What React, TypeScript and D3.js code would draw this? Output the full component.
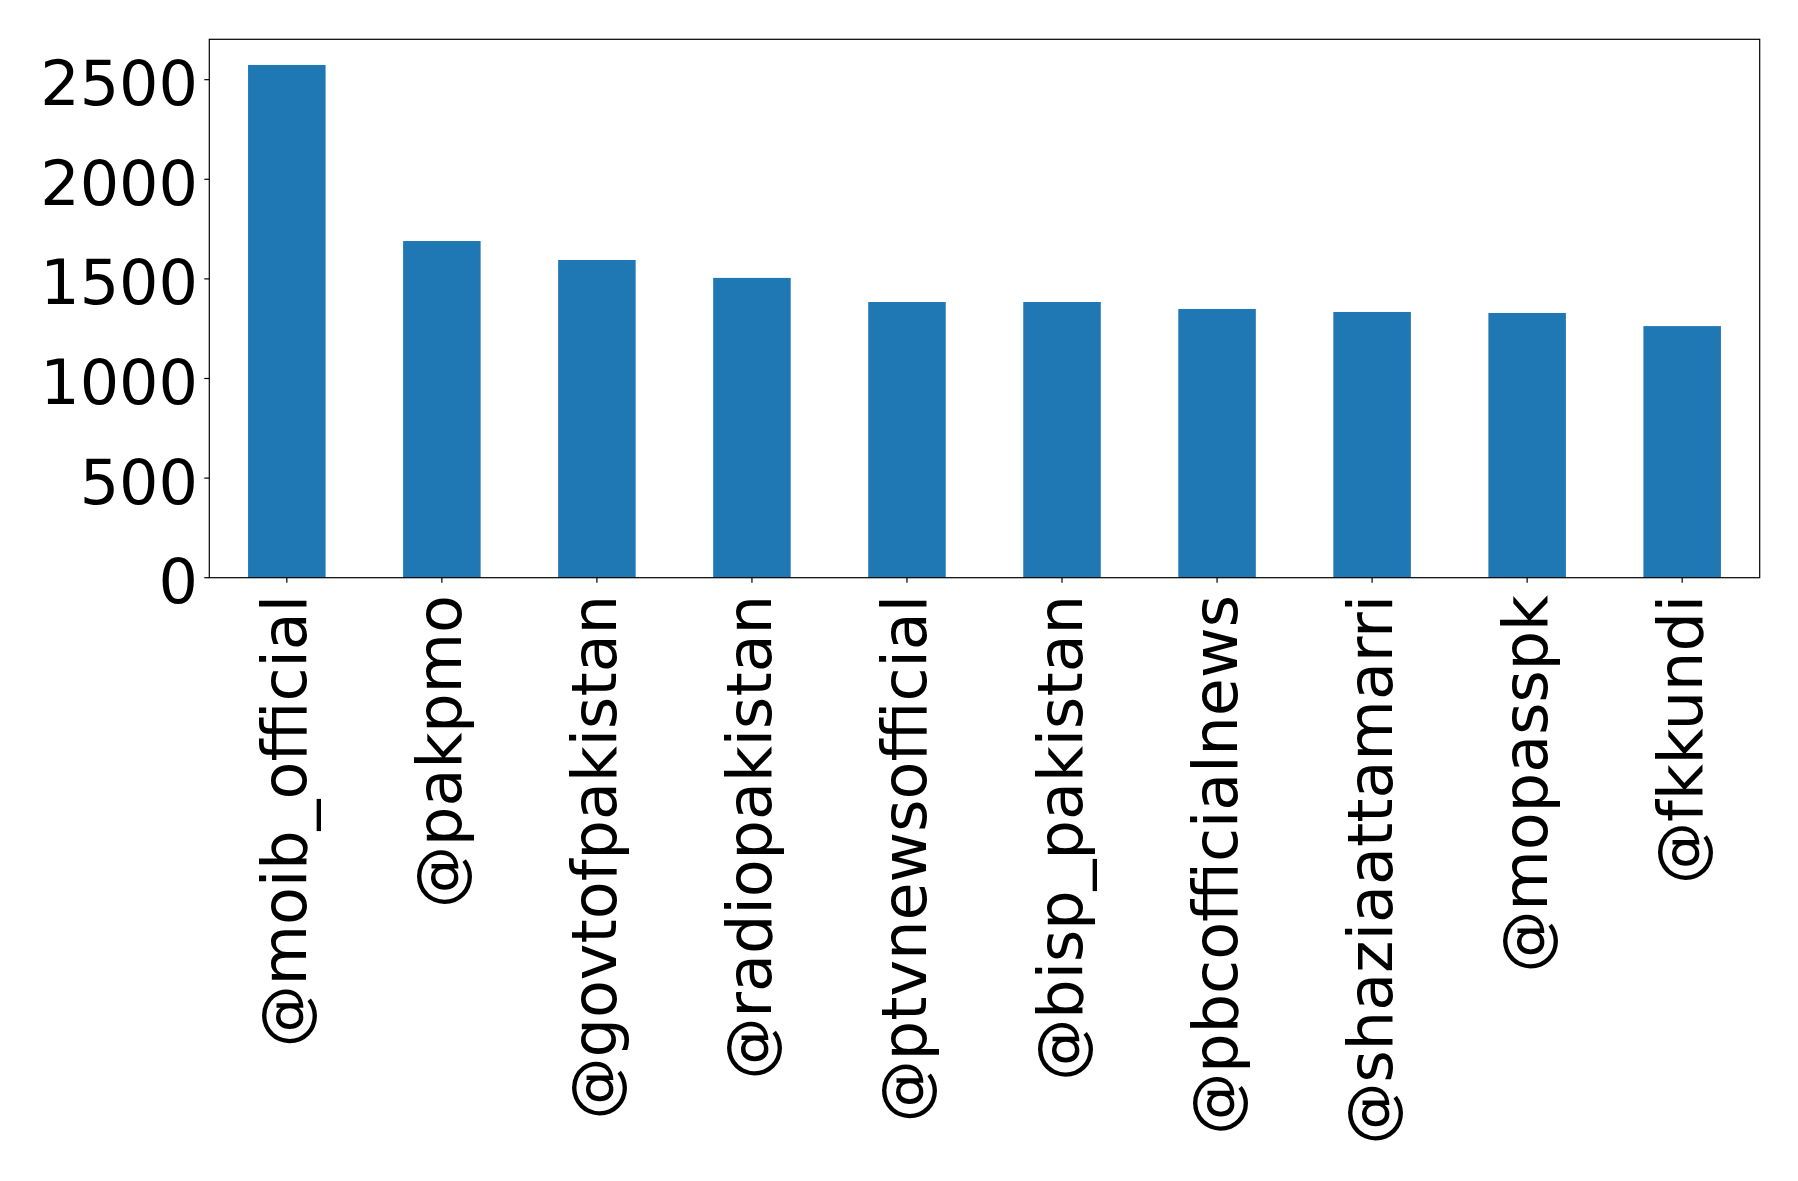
import React from "react";
import * as d3 from "d3";

const categories = [
  "@moib_official",
  "@pakpmo",
  "@govtofpakistan",
  "@radiopakistan",
  "@ptvnewsofficial",
  "@bisp_pakistan",
  "@pbcofficialnews",
  "@shaziaattamarri",
  "@mopasspk",
  "@fkkundi",
];
const values = [2574, 1690, 1595, 1505, 1384, 1384, 1349, 1334, 1329, 1263];
const yTicks = [0, 500, 1000, 1500, 2000, 2500];

const W = 1798;
const H = 1181;
const M = { left: 209.3, right: 1759.7, top: 39.3, bottom: 577.7 };
const FONT = "'DejaVu Sans', sans-serif";
const FS = 62;

export default function App() {
  const x = d3
    .scaleBand<string>()
    .domain(categories)
    .range([M.left, M.right])
    .paddingInner(0.5)
    .paddingOuter(0.25);
  const yMax = (d3.max(values) as number) * 1.05;
  const y = d3.scaleLinear().domain([0, yMax]).range([M.bottom, M.top]);

  return (
    <svg
      width={W}
      height={H}
      style={{ position: "absolute", left: 0, top: 0, background: "#fff" }}
      fontFamily={FONT}
    >
      <rect x={0} y={0} width={W} height={H} fill="#fff" />
      {categories.map((c, i) => (
        <rect
          key={c}
          x={x(c)}
          y={y(values[i])}
          width={x.bandwidth()}
          height={y(0) - y(values[i])}
          fill="#1f77b4"
        />
      ))}
      <rect
        x={M.left}
        y={M.top}
        width={M.right - M.left}
        height={M.bottom - M.top}
        fill="none"
        stroke="#000"
        strokeWidth={1.2}
      />
      {yTicks.map((t) => (
        <g key={t}>
          <line x1={M.left - 5} x2={M.left} y1={y(t)} y2={y(t)} stroke="#000" strokeWidth={1.2} />
          <text
            x={198}
            y={y(t)}
            dy={25.5}
            textAnchor="end"
            fontSize={FS}
            fill="#000"
          >
            {t}
          </text>
        </g>
      ))}
      {categories.map((c) => {
        const cx = (x(c) as number) + x.bandwidth() / 2;
        return (
          <g key={c}>
            <line x1={cx} x2={cx} y1={M.bottom} y2={M.bottom + 5} stroke="#000" strokeWidth={1.2} />
            <text
              transform={`translate(${cx},595) rotate(-90)`}
              dy={19.5}
              textAnchor="end"
              fontSize={FS}
              fill="#000"
            >
              {c}
            </text>
          </g>
        );
      })}
    </svg>
  );
}
